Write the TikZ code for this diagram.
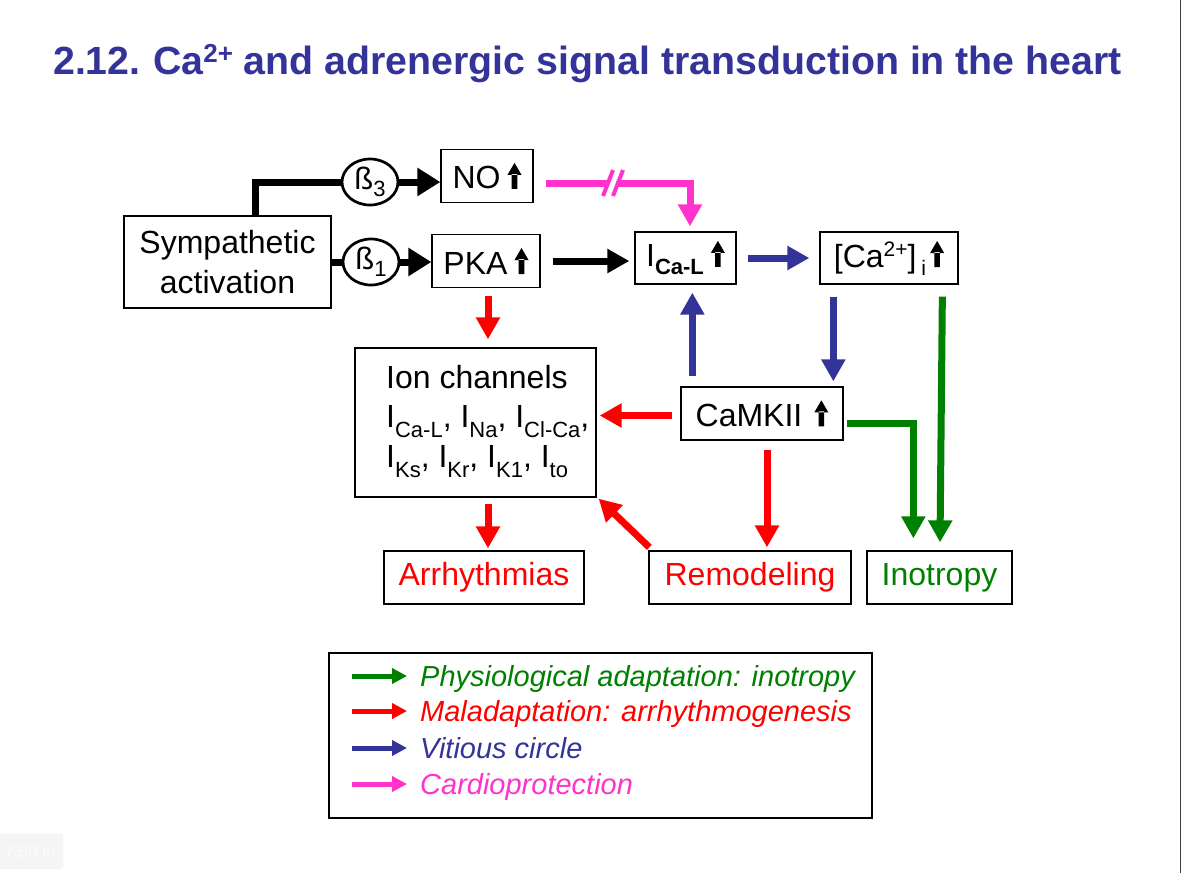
\documentclass[tikz,border=0pt]{standalone}
\usepackage{fontspec}
\setmainfont{Liberation Sans}
\usetikzlibrary{arrows.meta,shapes.geometric,calc}
\definecolor{tblue}{RGB}{51,51,153}
\definecolor{tgreen}{RGB}{0,128,0}
\definecolor{tred}{RGB}{255,0,0}
\definecolor{tpink}{RGB}{255,51,204}
\newcommand{\uarr}{\tikz[baseline=0pt,x=1pt,y=1pt]{\fill[black] (-2.8,0) rectangle (2.8,15) (-7,14)--(7,14)--(0,26)--cycle;}}
\newcommand{\lsub}[1]{\raisebox{-10pt}{\fontsize{22}{22}\selectfont #1}}
\begin{document}
\begin{tikzpicture}[x=1pt,y=-1pt,
  box/.style={draw, line width=1.3pt, inner sep=0pt, align=center, font=\fontsize{32}{40}\selectfont},
  betanode/.style={draw, ellipse, line width=2.7pt, minimum width=56pt, minimum height=46pt, inner sep=0pt, font=\fontsize{31}{31}\selectfont},
  blkline/.style={draw=black, line width=7pt},
  bigblk/.style={draw=black, line width=7pt, -{Triangle[length=23pt,width=27pt]}},
  arw/.style={line width=7pt, -{Triangle[length=22pt,width=23pt]}},
  blkarr/.style={arw, draw=black},
  bluarr/.style={arw, draw=tblue},
  redarr/.style={arw, draw=tred},
  grnarr/.style={arw, draw=tgreen},
  pnkarr/.style={arw, draw=tpink},
  legarr/.style={line width=5pt, -{Triangle[length=15pt,width=15pt]}},
  legtxt/.style={anchor=base west, inner sep=0pt, font=\fontsize{29}{29}\selectfont\itshape}
]
\useasboundingbox (0,0) rectangle (1182,873);
\fill[white] (0,0) rectangle (1182,873);
\draw[black!75, line width=1.5pt] (1180.5,0) -- (1180.5,873);
\node[fill=black!4, rounded corners=3pt, minimum width=66pt, minimum height=35pt, anchor=south west, text=black!1, font=\fontsize{17}{17}\selectfont] (ruler) at (-3,869) {7.50 in};

% title
\node[anchor=base west, inner sep=0pt, text=tblue, font=\fontsize{39.3}{39.3}\selectfont\bfseries] (title) at (53,74)
  {2.12.\hspace{-2pt} Ca\raisebox{12pt}{\fontsize{26}{26}\selectfont 2+} and adrenergic signal transduction in the heart};

% nodes
\node[box, minimum width=207pt, minimum height=92pt] (symp) at (227.5,262) {Sympathetic\\activation};
\node[betanode] (b3) at (370,182) {ß\raisebox{-7pt}{\fontsize{22}{22}\selectfont 3}};
\node[betanode] (b1) at (371,262) {ß\raisebox{-7pt}{\fontsize{22}{22}\selectfont 1}};
\node[box, minimum width=92pt, minimum height=53pt] (NO) at (487,176) {NO\hspace{7pt}\uarr};
\node[box, minimum width=108pt, minimum height=53pt] (PKA) at (486,261) {PKA\hspace{7pt}\uarr};
\node[box, minimum width=101pt, minimum height=52pt] (ICaL) at (685.5,258)
  {I\raisebox{-8pt}{\fontsize{22}{22}\selectfont\bfseries Ca-L}\hspace{7pt}\uarr};
\node[box, minimum width=138pt, minimum height=52pt] (Ca) at (889,258)
  {[Ca\raisebox{11pt}{\fontsize{21}{21}\selectfont 2+}]\hspace{5pt}\raisebox{-8pt}{\fontsize{21}{21}\selectfont i}\hspace{4pt}\uarr};
\node[box, minimum width=241pt, minimum height=149pt] (ion) at (475.5,422.5) {};
\node[anchor=base west, inner sep=0pt, font=\fontsize{32}{32}\selectfont] (ionA) at (386,388) {Ion channels};
\node[anchor=base west, inner sep=0pt, font=\fontsize{32}{32}\selectfont] (ionB) at (386,427)
  {I\lsub{Ca-L}, I\lsub{Na}, I\lsub{Cl-Ca},};
\node[anchor=base west, inner sep=0pt, font=\fontsize{32}{32}\selectfont] (ionC) at (386,467)
  {I\lsub{Ks}, I\lsub{Kr}, I\lsub{K1}, I\lsub{to}};
\node[box, minimum width=162pt, minimum height=53pt] (camk) at (762,413.5) {CaMKII\hspace{12pt}\uarr};
\node[box, minimum width=200pt, minimum height=53pt, text=tred] (arr) at (484,577.5) {Arrhythmias};
\node[box, minimum width=202pt, minimum height=53pt, text=tred] (rem) at (750,577.5) {Remodeling};
\node[box, minimum width=145pt, minimum height=53pt, text=tgreen] (ino) at (939.5,577.5) {Inotropy};

% connectors
\draw[blkline] ($(symp.north)+(27.5,0)$) |- (b3.west);
\draw[bigblk] (b3.east) -- (b3.east -| NO.west);
\draw[blkline] (symp.east) -- (b1.west);
\draw[bigblk] (b1.east) -- (b1.east -| PKA.west);
\draw[blkarr] ($(PKA.east)+(12,0)$) -- ($(PKA.east -| ICaL.west)+(-5,0)$);
\draw[bluarr] ($(ICaL.east)+(11,0)$) -- ($(Ca.west)+(-10,0)$);
\draw[bluarr] ($(Ca.south west)+(14,12)$) -- ($(Ca.south west |- camk.north)+(14,-5)$);
\draw[grnarr] ($(Ca.south west)+(123,12)$) -- ($(ino.north)+(0.5,-8)$);
\draw[bluarr] ($(camk.north west)+(12,-10)$) -- ($(camk.north west |- ICaL.south)+(12,8)$);
\draw[redarr] ($(camk.west)+(-8,2)$) -- ($(camk.west -| ion.east)+(3,2)$);
\draw[redarr] ($(camk.south)+(5,9)$) -- ($(camk.south |- rem.north)+(5,-3)$);
\draw[grnarr] ($(camk.east)+(3,10)$) -| ($(ino.north west)+(47,-12)$);
\draw[redarr] ($(PKA.south)+(2,8)$) -- ($(PKA.south |- ion.north)+(2,-8)$);
\draw[redarr] ($(arr.north |- ion.south)+(4,6)$) -- ($(arr.north)+(4,-2)$);
\draw[redarr] ($(rem.north west)+(1,-3)$) -- ($(ion.south east)+(2,1)$);
\draw[pnkarr] ($(NO.east)+(12,7)$) -| ($(ICaL.north)+(4.5,-5)$);
% break mark
\draw[white, line width=5.5pt] (608,197) -- (618,169);
\draw[tpink, line width=4pt] (603,196) -- (613,170) (613,196) -- (623,170);

% legend
\node[draw, line width=1.3pt, minimum width=543pt, minimum height=165pt, inner sep=0pt] (leg) at (600.5,735.5) {};
\coordinate (g1s) at (352,676); \coordinate (g1e) at (407,676);
\coordinate (g2s) at (352,711); \coordinate (g2e) at (407,711);
\coordinate (g3s) at (352,748); \coordinate (g3e) at (407,748);
\coordinate (g4s) at (352,784); \coordinate (g4e) at (407,784);
\draw[legarr, draw=tgreen] (g1s) -- (g1e);
\draw[legarr, draw=tred] (g2s) -- (g2e);
\draw[legarr, draw=tblue] (g3s) -- (g3e);
\draw[legarr, draw=tpink] (g4s) -- (g4e);
\node[legtxt, text=tgreen] (l1) at (420,686) {Physiological adaptation: inotropy};
\node[legtxt, text=tred] (l2) at (420,721) {Maladaptation: arrhythmogenesis};
\node[legtxt, text=tblue] (l3) at (420,758) {Vitious circle};
\node[legtxt, text=tpink] (l4) at (420,794) {Cardioprotection};
\end{tikzpicture}
\end{document}
